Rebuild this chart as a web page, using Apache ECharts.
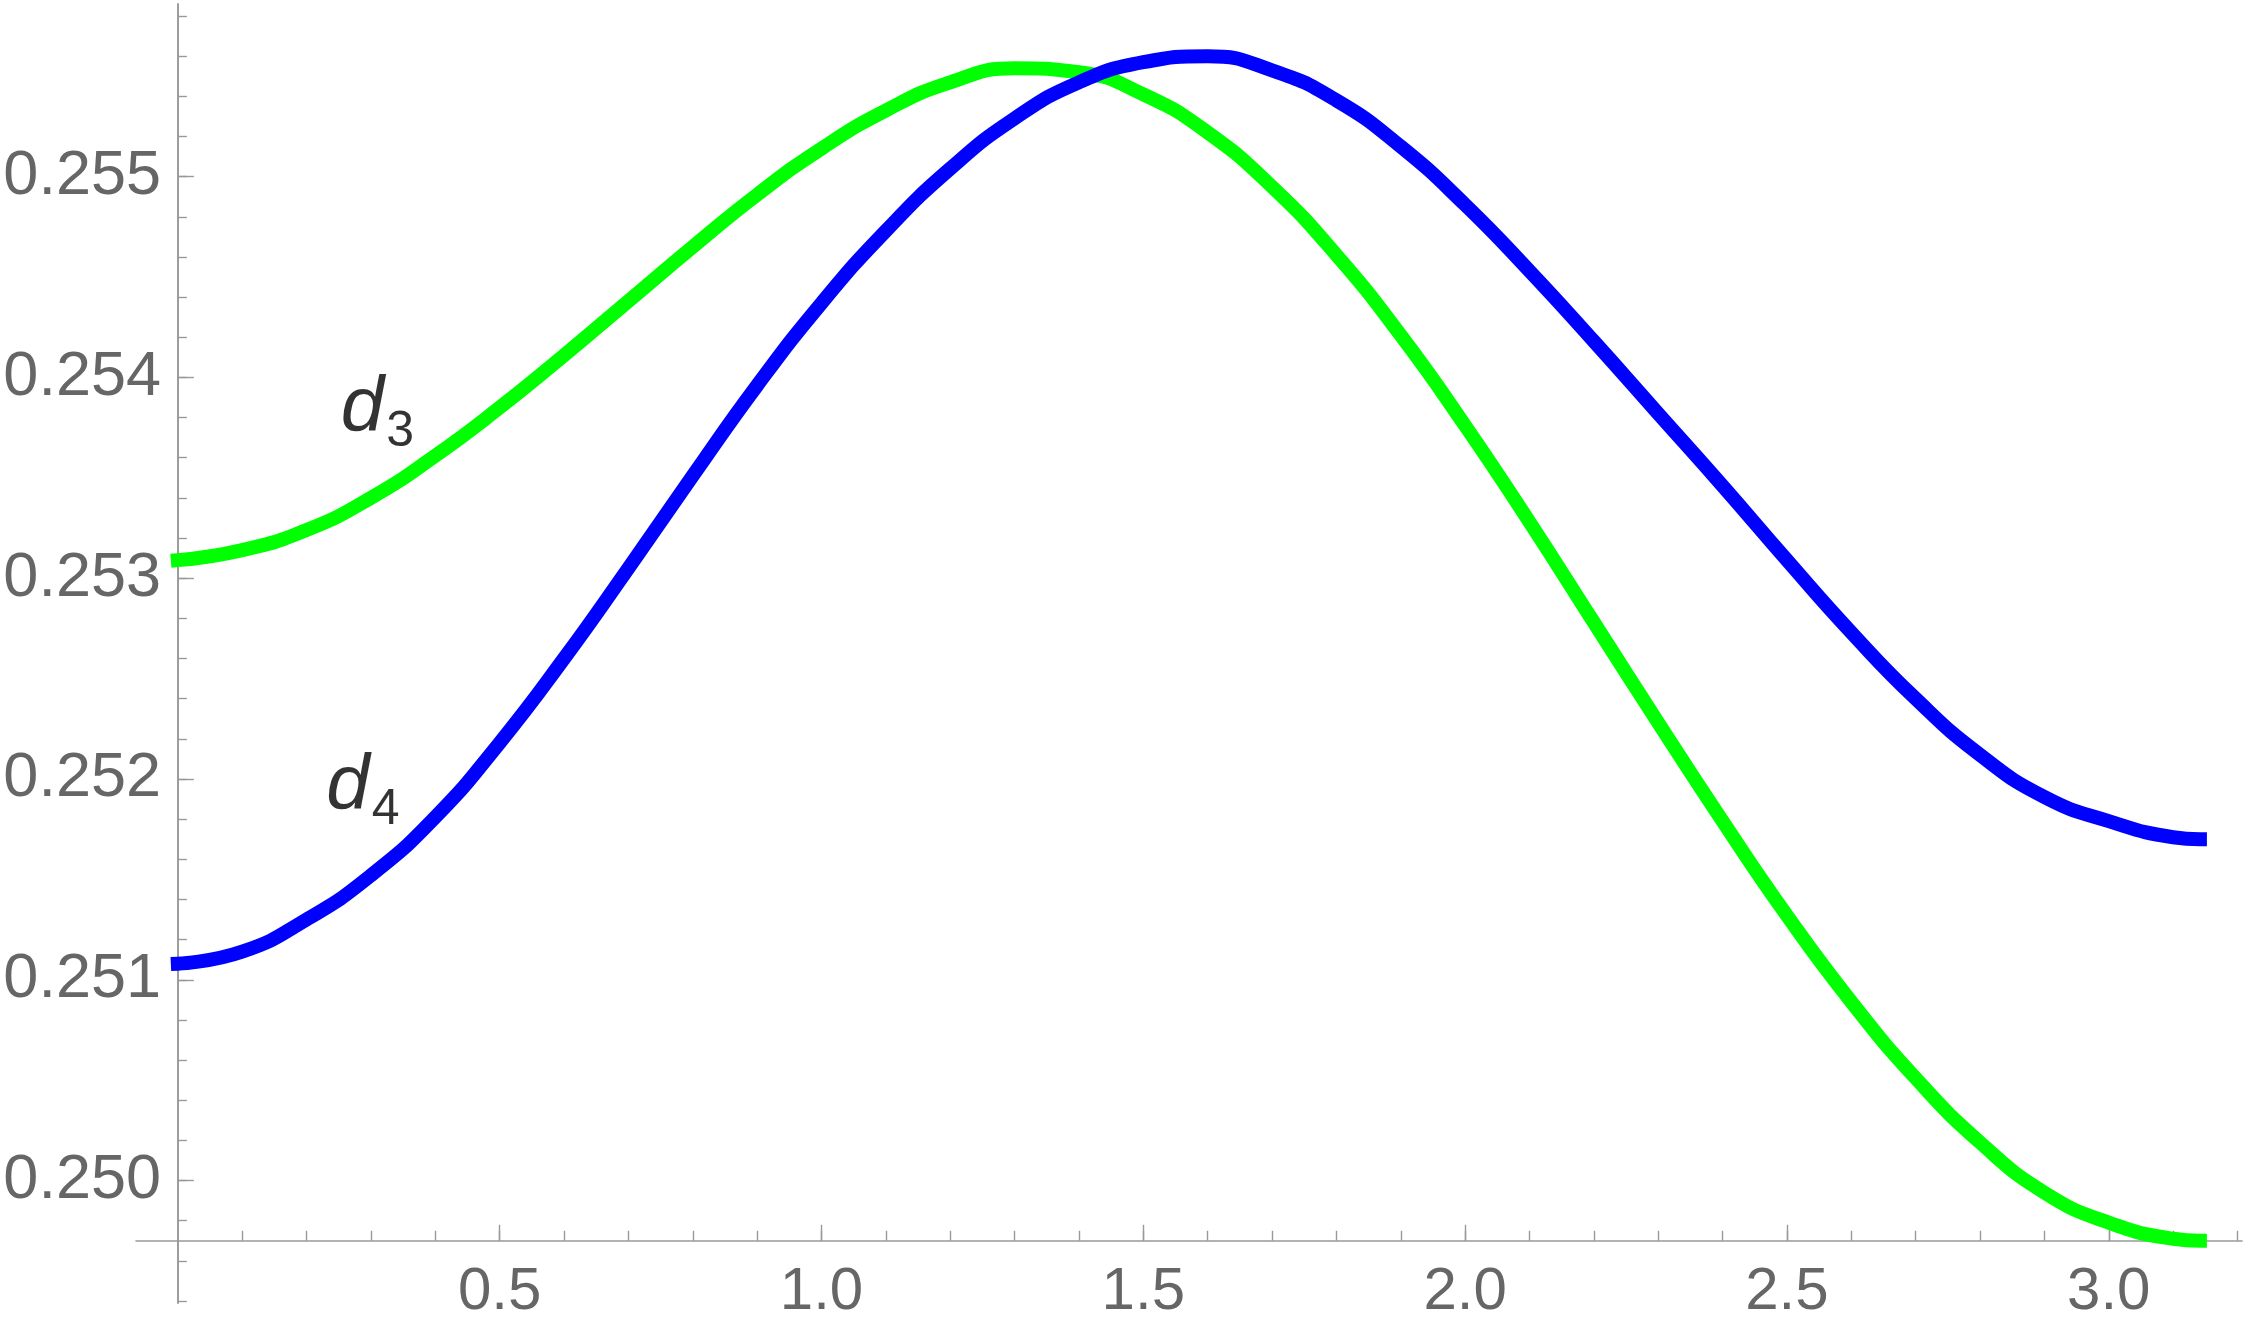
<!DOCTYPE html>
<html>
<head>
<meta charset="utf-8">
<title>d3 / d4</title>
<script src="https://cdn.jsdelivr.net/npm/echarts@6/dist/echarts.min.js"></script>
<style>
  html, body { margin: 0; padding: 0; background: #fff; }
  #chart { width: 2250px; height: 1334px; }
</style>
</head>
<body>
<div id="chart"></div>
<script>
// values
const thetaValues = [0, 0.1, 0.2, 0.3, 0.4, 0.5, 0.6, 0.7, 0.8, 0.9, 1.0, 1.1, 1.2, 1.3, 1.4, 1.5,
  1.6, 1.7, 1.8, 1.9, 2.0, 2.1, 2.2, 2.3, 2.4, 2.5, 2.6, 2.7, 2.8, 2.9, 3.0, 3.1, 3.1416]

// d3 (green)
const d3Values = [0.25309, 0.25314, 0.25324, 0.25340, 0.25361, 0.25385, 0.25411, 0.25438, 0.25465,
  0.25491, 0.25514, 0.25533, 0.25547, 0.25554, 0.25552, 0.25541, 0.25522, 0.25495, 0.25461, 0.25421,
  0.25376, 0.25328, 0.25278, 0.25228, 0.25179, 0.25132, 0.25089, 0.25051, 0.25019, 0.24994, 0.24979,
  0.24971, 0.24970]

// d4 (blue)
const d4Values = [0.25108, 0.25114, 0.25130, 0.25152, 0.25181, 0.25218, 0.25260, 0.25305, 0.25351,
  0.25396, 0.25437, 0.25473, 0.25504, 0.25529, 0.25547, 0.25557, 0.25560, 0.25553, 0.25538, 0.25515,
  0.25486, 0.25453, 0.25418, 0.25382, 0.25346, 0.25309, 0.25273, 0.25240, 0.25212, 0.25191, 0.25179,
  0.25171, 0.25170]

// tick labels
const xMajorTicks = [0.5, 1.0, 1.5, 2.0, 2.5, 3.0]
const yMajorTicks = [0.250, 0.251, 0.252, 0.253, 0.254, 0.255]

// minor ticks every 0.1 on x, every 0.0002 on y
const xMinorTicks = []
for (let i = 1; i <= 32; i++) xMinorTicks.push(i / 10)
const yMinorTicks = []
for (let i = 2494; i <= 2558; i += 2) yMinorTicks.push(i / 10000)

// axis extents (axes of the original overshoot the data a bit)
const X_MIN = -0.065
const X_MAX = 3.207
const Y_MIN = 0.24939
const Y_MAX = 0.25586
const X_AXIS_AT = 0.2497  // where the horizontal axis crosses

const AXIS_COLOR = '#999999'
const LABEL_COLOR = '#666666'
const FONT = 'Liberation Sans, Arial, sans-serif'
const LINE_WIDTH = 14

const GRID = { left: 136, right: 8, top: 4, bottom: 31, outerBoundsMode: 'none', containLabel: false }
const plotHeight = 1334 - GRID.top - GRID.bottom
// move the x axis up from grid bottom to y = X_AXIS_AT
const xAxisOffset = -plotHeight * (X_AXIS_AT - Y_MIN) / (Y_MAX - Y_MIN)

const toPairs = ys => thetaValues.map((t, i) => [t, ys[i]])

function xAxisBase(extra) {
  return Object.assign({
    type: 'value',
    min: X_MIN,
    max: X_MAX,
    position: 'bottom',
    offset: xAxisOffset,
    splitLine: { show: false }
  }, extra)
}

function yAxisBase(extra) {
  return Object.assign({
    type: 'value',
    min: Y_MIN,
    max: Y_MAX,
    position: 'left',
    splitLine: { show: false }
  }, extra)
}

const chart = echarts.init(document.getElementById('chart'))

const option = {
  animation: false,
  backgroundColor: '#ffffff',
  grid: GRID,
  xAxis: [
    xAxisBase({
      axisLine: { show: true, onZero: false, lineStyle: { color: AXIS_COLOR, width: 1.6 } },
      axisTick: { show: true, inside: true, length: 10, customValues: xMinorTicks,
        lineStyle: { color: AXIS_COLOR, width: 1.4 } },
      axisLabel: { show: true, customValues: xMajorTicks, formatter: v => v.toFixed(1),
        margin: 22, fontSize: 60, color: LABEL_COLOR, fontFamily: FONT }
    }),
    xAxisBase({
      axisLine: { show: false, onZero: false },
      axisTick: { show: true, inside: true, length: 16, customValues: xMajorTicks,
        lineStyle: { color: AXIS_COLOR, width: 1.4 } },
      axisLabel: { show: false }
    })
  ],
  yAxis: [
    yAxisBase({
      axisLine: { show: true, onZero: true, onZeroAxisIndex: 0, lineStyle: { color: AXIS_COLOR, width: 1.6 } },
      axisTick: { show: true, inside: true, length: 9, customValues: yMinorTicks,
        lineStyle: { color: AXIS_COLOR, width: 1.4 } },
      // labels are laid out from the grid edge, not the on-zero line, hence the negative margin
      axisLabel: { show: true, customValues: yMajorTicks, formatter: v => v.toFixed(3),
        margin: -25, fontSize: 63, color: LABEL_COLOR, fontFamily: FONT, padding: [6, 0, 0, 0] }
    }),
    yAxisBase({
      axisLine: { show: true, onZero: true, onZeroAxisIndex: 0, lineStyle: { color: AXIS_COLOR, width: 1.6 } },
      axisTick: { show: true, inside: true, length: 16, customValues: yMajorTicks,
        lineStyle: { color: AXIS_COLOR, width: 1.4 } },
      axisLabel: { show: false }
    })
  ],
  series: [
    {
      name: 'd3',
      type: 'line',
      data: toPairs(d3Values),
      smooth: true,
      showSymbol: false,
      clip: false,
      lineStyle: { color: '#00ff00', width: LINE_WIDTH, cap: 'square', join: 'round' }
    },
    {
      name: 'd4',
      type: 'line',
      data: toPairs(d4Values),
      smooth: true,
      showSymbol: false,
      clip: false,
      lineStyle: { color: '#0000ff', width: LINE_WIDTH, cap: 'square', join: 'round' }
    },
    {
      // curve names, placed in data coordinates
      type: 'scatter',
      silent: true,
      symbolSize: 1,
      itemStyle: { color: 'rgba(0,0,0,0)' },
      data: [
        { value: [0.310, 0.25384], label: { formatter: '{d|d}{s|3}' } },
        { value: [0.2875, 0.25196], label: { formatter: '{d|d}{s|4}' } }
      ],
      label: {
        show: true,
        position: 'inside',
        rich: {
          d: { fontSize: 78, fontStyle: 'italic', color: '#000', fontFamily: FONT, lineHeight: 100 },
          s: { fontSize: 50, color: '#000', fontFamily: FONT, padding: [46, 0, 0, 2] }
        }
      }
    }
  ]
}

chart.setOption(option)
</script>
</body>
</html>
